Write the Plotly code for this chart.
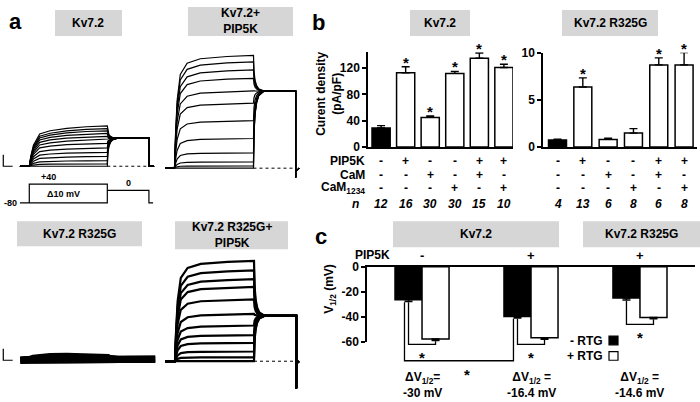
import plotly.graph_objects as go

W, H = 700, 402
FONT = "Liberation Sans, Arial, sans-serif"

# ---- panel a: current traces (amplitude per voltage step) ----
kv72_amp = [1.74, 1.62, 1.53, 1.42, 1.29, 1.15, 0.99, 0.79, 0.60, 0.42, 0.24, 0.10, 0.0]
kv72_tail = 1.21
pip_amp = [4.87, 4.59, 4.24, 3.88, 3.34, 2.81, 2.05, 1.28, 0.66, 0.27, 0.10, 0.0]
pip_tail = 3.33
r325g_amp = [0.18, 0.11, 0.05, 0.0]
r325g_tail = 0.04
r325g_pip_amp = [4.33, 3.92, 3.54, 3.21, 2.67, 2.04, 1.54, 1.13, 0.79, 0.42, 0.17, 0.0]
r325g_pip_tail = 1.96

# normalised time course (s, fraction)
act_t_slow = [0, 0.03, 0.08, 0.2, 0.4, 0.72, 1.1, 1.5]
act_f_slow = [0, 0.25, 0.52, 0.8, 0.88, 0.94, 0.98, 1.0]
act_t_fast = [0, 0.02, 0.05, 0.11, 0.24, 0.49, 1.0, 1.5]
act_f_fast = [0, 0.3, 0.6, 0.83, 0.93, 0.97, 0.99, 1.0]
tail_t = [0, 0.01, 0.03, 0.06, 0.1, 0.2, 0.8]
tail_f = [0, 0.45, 0.7, 0.85, 0.94, 1.0, 1.0]

# voltage protocol
prot_t = [-0.18, 0, 0, 1.5, 1.5, 0, 0, 1.5, 1.5, 2.3, 2.3, 2.38]
prot_mv = [-80, -80, 40, 40, -80, -80, -80, -80, 0, 0, -80, -80]

# ---- panel b: current density ----
cd_kv72 = [29, 113, 45, 112, 135, 121]
cd_kv72_err = [3.5, 9, 2, 3, 8, 5]
cd_r325g = [0.75, 6.35, 0.8, 1.47, 8.7, 8.7]
cd_r325g_err = [0.08, 0.97, 0.13, 0.47, 0.75, 1.3]
row_pip5k = ['-', '+', '-', '-', '+', '+']
row_cam = ['-', '-', '+', '-', '+', '-']
row_cam1234 = ['-', '-', '-', '+', '-', '+']
n_kv72 = [12, 16, 30, 30, 15, 10]
n_r325g = [4, 13, 6, 8, 6, 8]
star_kv72 = [0, 1, 1, 1, 1, 1]
star_r325g = [0, 1, 0, 0, 1, 1]

# ---- panel c: V1/2 ----
v_minus_rtg = [-26.4, -39.7, -25.1]
v_minus_rtg_err = [1.5, 1.3, 1.5]
v_plus_rtg = [-57.7, -56.7, -40.5]
v_plus_rtg_err = [1.2, 1.2, 1.0]
pip5k_c = ['-', '+', '+']
dv_text = ['ΔV<sub>1/2</sub>=<br>-30 mV', 'ΔV<sub>1/2</sub> =<br>-16.4 mV', 'ΔV<sub>1/2</sub> =<br>-14.6 mV']


def xd(a, b):
    return [a / W, b / W]


def yd(top, bot):
    return [1 - bot / H, 1 - top / H]


def px(x):
    return x / W


def py(y):
    return 1 - y / H


def trace_xy(amp, tail, act_t, act_f, start, end_pts):
    t = [start, 0]
    y = [0, 0]
    for tt, f in zip(act_t, act_f):
        t.append(tt)
        y.append(amp * f)
    for tt, g in zip(tail_t, tail_f):
        t.append(1.5 + tt)
        y.append(amp + (tail - amp) * g)
    for tt, v in end_pts:
        t.append(tt)
        y.append(v)
    return t, y


fig = go.Figure()
line_k = dict(color='black', width=1.2)

# a: Kv7.2
for a in kv72_amp:
    t, y = trace_xy(a, kv72_tail, act_t_slow, act_f_slow, -0.18, [(2.3, 0), (2.4, 0)])
    fig.add_trace(go.Scatter(x=t, y=y, mode='lines', line=line_k, xaxis='x', yaxis='y'))
fig.add_trace(go.Scatter(x=[1.5, 2.3], y=[0, 0], mode='lines',
                         line=dict(color='black', width=1, dash='dot'), xaxis='x', yaxis='y'))
fig.add_trace(go.Scatter(x=[-0.5, -0.5, -0.32], y=[0.5, 0, 0], mode='lines',
                         line=dict(color='black', width=1.2), xaxis='x', yaxis='y'))
# protocol
fig.add_trace(go.Scatter(x=prot_t, y=prot_mv, mode='lines', line=dict(color='black', width=1.2),
                         xaxis='x', yaxis='y5'))

# a: Kv7.2 + PIP5K
for a in pip_amp:
    t, y = trace_xy(a, pip_tail, act_t_fast, act_f_fast, -0.18,
                    [(2.3, -0.4), (2.3, -0.15), (2.37, 0)])
    fig.add_trace(go.Scatter(x=t, y=y, mode='lines', line=line_k, xaxis='x2', yaxis='y2'))
fig.add_trace(go.Scatter(x=[1.5, 2.3], y=[0, 0], mode='lines',
                         line=dict(color='black', width=1, dash='dot'), xaxis='x2', yaxis='y2'))

# a: Kv7.2 R325G
for a in r325g_amp:
    t, y = trace_xy(a, r325g_tail, act_t_slow, act_f_slow, -0.17, [(2.42, r325g_tail)])
    fig.add_trace(go.Scatter(x=t, y=y, mode='lines', line=dict(color='black', width=7),
                             xaxis='x3', yaxis='y3'))
fig.add_trace(go.Scatter(x=[-0.5, -0.5, -0.32], y=[0.5, 0, 0], mode='lines',
                         line=dict(color='black', width=1.2), xaxis='x3', yaxis='y3'))

# a: Kv7.2 R325G + PIP5K
for a in r325g_pip_amp:
    t, y = trace_xy(a, r325g_pip_tail, act_t_fast, act_f_fast, -0.19,
                    [(2.3, -1.17), (2.3, -0.1), (2.35, 0)])
    fig.add_trace(go.Scatter(x=t, y=y, mode='lines', line=dict(color='black', width=2.2),
                             xaxis='x4', yaxis='y4'))
fig.add_trace(go.Scatter(x=[1.5, 2.3], y=[0, 0], mode='lines',
                         line=dict(color='black', width=1, dash='dot'), xaxis='x4', yaxis='y4'))

# b: bars
cols6 = ['black'] + ['white'] * 5
xs6 = [1, 2, 3, 4, 5, 6]
fig.add_trace(go.Bar(x=xs6, y=cd_kv72, width=0.74, marker=dict(color=cols6, line=dict(color='black', width=1.5)),
                     error_y=dict(type='data', array=cd_kv72_err, arrayminus=[0] * 6, symmetric=False,
                                  color='black', thickness=1.4, width=4),
                     xaxis='x6', yaxis='y6'))
fig.add_trace(go.Bar(x=xs6, y=cd_r325g, width=0.71, marker=dict(color=cols6, line=dict(color='black', width=1.5)),
                     error_y=dict(type='data', array=cd_r325g_err, arrayminus=[0] * 6, symmetric=False,
                                  color='black', thickness=1.4, width=4),
                     xaxis='x7', yaxis='y7'))

# c: bars
gx = [1, 2, 3]
bw = 0.248
fig.add_trace(go.Bar(x=gx, y=v_minus_rtg, width=bw, offset=-bw,
                     marker=dict(color='black', line=dict(color='black', width=1.5)),
                     error_y=dict(type='data', array=[0] * 3, arrayminus=v_minus_rtg_err, symmetric=False,
                                  color='black', thickness=1.4, width=4),
                     xaxis='x8', yaxis='y8'))
fig.add_trace(go.Bar(x=gx, y=v_plus_rtg, width=bw, offset=0,
                     marker=dict(color='white', line=dict(color='black', width=1.5)),
                     error_y=dict(type='data', array=[0] * 3, arrayminus=v_plus_rtg_err, symmetric=False,
                                  color='black', thickness=1.4, width=4),
                     xaxis='x8', yaxis='y8'))

# c: significance brackets
levels = [-62, -62, -46]
for i in range(3):
    b_tip = v_minus_rtg[i] - v_minus_rtg_err[i]
    w_tip = v_plus_rtg[i] - v_plus_rtg_err[i]
    xb = gx[i] - bw / 2
    xw = gx[i] + bw / 2
    fig.add_trace(go.Scatter(x=[xb, xb, xw, xw], y=[b_tip - 0.5, levels[i], levels[i], w_tip - 0.5],
                             mode='lines', line=dict(color='black', width=1.3), xaxis='x8', yaxis='y9'))
off = 0.037
xl = gx[0] - bw / 2 - off
xr = gx[1] - bw / 2 - off
fig.add_trace(go.Scatter(x=[xl, xl, xr, xr],
                         y=[v_minus_rtg[0] - v_minus_rtg_err[0] - 0.5, -75, -75,
                            v_minus_rtg[1] - v_minus_rtg_err[1] - 0.5],
                         mode='lines', line=dict(color='black', width=1.3), xaxis='x8', yaxis='y9'))

hidden = dict(visible=False, fixedrange=True)
axis_b = dict(showline=True, linecolor='black', linewidth=1.5, ticks='outside', ticklen=4,
              tickwidth=1.5, tickcolor='black', showgrid=False, zeroline=False, fixedrange=True,
              tickfont=dict(family=FONT, size=12, color='black', weight='bold'))
fig.update_layout(
    width=W, height=H, margin=dict(l=0, r=0, t=0, b=0),
    paper_bgcolor='white', plot_bgcolor='rgba(0,0,0,0)', showlegend=False, barmode='overlay',
    font=dict(family=FONT, color='black'),
    xaxis=dict(hidden, domain=xd(0, 160), range=[-0.563, 2.513], anchor='y'),
    yaxis=dict(hidden, domain=yd(40, 175), range=[-0.417, 5.208], anchor='x'),
    xaxis2=dict(hidden, domain=xd(160, 310), range=[-0.275, 2.573], anchor='y2'),
    yaxis2=dict(hidden, domain=yd(40, 180), range=[-0.542, 5.292], anchor='x2'),
    xaxis3=dict(hidden, domain=xd(0, 160), range=[-0.563, 2.513], anchor='y3'),
    yaxis3=dict(hidden, domain=yd(250, 400), range=[-1.417, 4.833], anchor='x3'),
    xaxis4=dict(hidden, domain=xd(160, 310), range=[-0.285, 2.563], anchor='y4'),
    yaxis4=dict(hidden, domain=yd(250, 400), range=[-1.375, 4.875], anchor='x4'),
    yaxis5=dict(hidden, domain=yd(176, 210), range=[-123, 86.2], anchor='x'),
    xaxis6=dict(domain=xd(368, 513), range=[0.467, 6.37], showline=True, linecolor='black', linewidth=1.5,
                showticklabels=False, ticks='', showgrid=False, zeroline=False, anchor='y6', fixedrange=True),
    yaxis6=dict(axis_b, domain=yd(47, 145), range=[0, 144], tickvals=[0, 40, 80, 120], anchor='x6'),
    xaxis7=dict(domain=xd(543, 697), range=[0.427, 6.51], showline=True, linecolor='black', linewidth=1.5,
                showticklabels=False, ticks='', showgrid=False, zeroline=False, anchor='y7', fixedrange=True),
    yaxis7=dict(axis_b, domain=yd(47.3, 145), range=[0, 10], tickvals=[0, 5, 10], anchor='x7'),
    xaxis8=dict(domain=xd(367, 695), range=[0.495, 3.505], showline=True, linecolor='black', linewidth=1.5,
                side='top', showticklabels=False, ticks='', showgrid=False, zeroline=False, anchor='y8',
                fixedrange=True),
    yaxis8=dict(axis_b, domain=yd(269, 347), range=[-60, 0], tickvals=[0, -20, -40, -60],
                ticktext=['0', '-20', '-40', '-60'], anchor='x8'),
    yaxis9=dict(hidden, domain=yd(269, 400), range=[-100.77, 0], anchor='x8'),
)

shapes = []
anns = []


def gray_box(x0, x1, y0, y1, text):
    shapes.append(dict(type='rect', xref='paper', yref='paper', x0=px(x0), x1=px(x1), y0=py(y1), y1=py(y0),
                       fillcolor='#d6d6d6', line=dict(width=0), layer='below'))
    anns.append(dict(text='<b>%s</b>' % text, xref='paper', yref='paper', x=px((x0 + x1) / 2),
                     y=py((y0 + y1) / 2), xanchor='center', yanchor='middle', showarrow=False,
                     font=dict(size=12), align='center'))


gray_box(55, 122, 3, 30, 'Kv7.2')
gray_box(188, 293, 0, 30, 'Kv7.2+<br>PIP5K')
gray_box(410, 470, 3, 30, 'Kv7.2')
gray_box(562, 658, 3, 30, 'Kv7.2 R325G')
gray_box(17, 142, 222, 248, 'Kv7.2 R325G')
gray_box(175, 288, 222, 251, 'Kv7.2 R325G+<br>PIP5K')
gray_box(393, 559, 222, 249, 'Kv7.2')
gray_box(583, 700, 222, 249, 'Kv7.2 R325G')


def text_px(text, x, y, size=12, xanchor='center'):
    anns.append(dict(text=text, xref='paper', yref='paper', x=px(x), y=py(y), showarrow=False,
                     xanchor=xanchor, yanchor='middle', font=dict(size=size)))


text_px('<b>a</b>', 15, 15, size=22)
text_px('<b>b</b>', 318, 16, size=22)
text_px('<b>c</b>', 321, 238, size=22)

# protocol labels
proto_ann = dict(xref='x', yref='y5', showarrow=False, xanchor='center', yanchor='middle', font=dict(size=9))
anns.append(dict(proto_ann, text='<b>+40</b>', x=0.36, y=40, yshift=7))
anns.append(dict(proto_ann, text='<b>Δ10 mV</b>', x=0.65, y=-20))
anns.append(dict(proto_ann, text='<b>0</b>', x=1.9, y=0, yshift=7))
anns.append(dict(proto_ann, text='<b>-80</b>', x=-0.2, y=-80, xanchor='right'))

# b: axis titles, rows, stars
anns.append(dict(text='<b>Curent density<br>(pA/pF)</b>', xref='paper', yref='paper', x=px(329), y=py(90),
                 xanchor='center', yanchor='middle', textangle=-90, showarrow=False, font=dict(size=12)))
row_y = [160, 174, 188]
row_lab = ['PIP5K', 'CaM', 'CaM<sub>1234</sub>']
for ry, lab in zip(row_y, row_lab):
    text_px('<b>%s</b>' % lab, 367, ry, xanchor='right')
text_px('<b><i>n</i></b>', 355, 204)
for xa, ya, ns, vals, errs, stars in [('x6', 'y6', n_kv72, cd_kv72, cd_kv72_err, star_kv72),
                                       ('x7', 'y7', n_r325g, cd_r325g, cd_r325g_err, star_r325g)]:
    for i in range(6):
        for ry, row in zip(row_y, [row_pip5k, row_cam, row_cam1234]):
            anns.append(dict(text='<b>%s</b>' % row[i], xref=xa, yref='paper', x=xs6[i], y=py(ry),
                             xanchor='center', yanchor='middle', showarrow=False, font=dict(size=12)))
        anns.append(dict(text='<b><i>%d</i></b>' % ns[i], xref=xa, yref='paper', x=xs6[i], y=py(204),
                         xanchor='center', yanchor='middle', showarrow=False, font=dict(size=12)))
        if stars[i]:
            anns.append(dict(text='<b>*</b>', xref=xa, yref=ya, x=xs6[i], y=vals[i] + errs[i],
                             xanchor='center', yanchor='bottom', yshift=-6, showarrow=False,
                             font=dict(size=15)))

# c: labels
anns.append(dict(text='<b>V<sub>1/2</sub> (mV)</b>', xref='paper', yref='paper', x=px(330), y=py(292),
                 xanchor='center', yanchor='middle', textangle=-90, showarrow=False, font=dict(size=12)))
text_px('<b>PIP5K</b>', 373, 257)
for i in range(3):
    anns.append(dict(text='<b>%s</b>' % pip5k_c[i], xref='x8', yref='paper', x=gx[i], y=py(257),
                     xanchor='center', yanchor='middle', showarrow=False, font=dict(size=13)))
    anns.append(dict(text='<b>%s</b>' % dv_text[i], xref='x8', yref='paper', x=gx[i], y=py(392),
                     xanchor='center', yanchor='middle', showarrow=False, font=dict(size=12), align='center'))
for sx, sy in [(gx[0], levels[0]), (gx[1], levels[1]), (gx[2], levels[2]), (1.41, -75)]:
    anns.append(dict(text='<b>*</b>', xref='x8', yref='y9', x=sx, y=sy, xanchor='center', yanchor='top',
                     yshift=-3, showarrow=False, font=dict(size=15)))

# legend
text_px('<b>- RTG</b>', 605, 346, xanchor='right')
text_px('<b>+ RTG</b>', 605, 362, xanchor='right')
shapes.append(dict(type='rect', xref='paper', yref='paper', x0=px(609), x1=px(618), y0=py(350), y1=py(341),
                   fillcolor='black', line=dict(color='black', width=1.2)))
shapes.append(dict(type='rect', xref='paper', yref='paper', x0=px(609), x1=px(618), y0=py(366), y1=py(357),
                   fillcolor='white', line=dict(color='black', width=1.2)))

fig.update_layout(shapes=shapes, annotations=anns)
fig.write_html("out.html", config={'displayModeBar': False},
               post_script="document.body.style.margin='0px';document.body.style.overflow='hidden';")
